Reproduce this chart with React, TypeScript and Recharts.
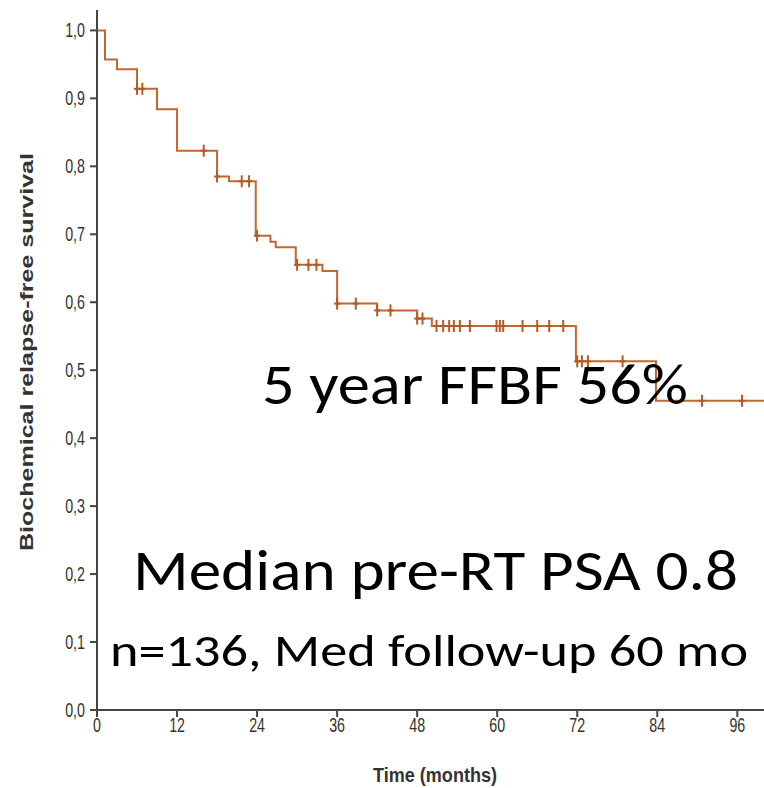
import React from 'react';
import { ComposedChart, Line, Scatter, XAxis, YAxis } from 'recharts';

// Kaplan-Meier steps (months, survival after the drop)
const eventMonths = [0, 1.2, 3, 6, 9, 12, 18, 19.8, 23.8, 26, 26.8, 29.8, 33.8, 36, 42, 48, 50.2, 71.8, 83.8, 100];
const survival = [1.0, 0.957, 0.943, 0.914, 0.884, 0.823, 0.785, 0.778, 0.698, 0.689, 0.681, 0.655, 0.646, 0.598, 0.588, 0.576, 0.565, 0.513, 0.455, 0.455];

// censored patients (months)
const censoredMonths = [
  6, 6.8, 16, 18, 21.7, 22.8, 24, 30, 31.7, 32.9, 36, 38.8, 42, 44, 48, 48.8,
  50.9, 51.9, 52.8, 53.5, 54.4, 55.9, 59.9, 60.4, 60.9, 63.8, 66, 67.8, 69.9,
  72, 72.7, 73.6, 78.8, 90.7, 96.7,
];

const xTicks = [0, 12, 24, 36, 48, 60, 72, 84, 96];
const yTicks = [0, 0.1, 0.2, 0.3, 0.4, 0.5, 0.6, 0.7, 0.8, 0.9, 1.0];

const kmData = eventMonths.map((t, i) => ({ t, s: survival[i] }));

const survivalAt = (t: number) => {
  let v = survival[0];
  eventMonths.forEach((e, i) => {
    if (e <= t) v = survival[i];
  });
  return v;
};

const censorData = censoredMonths.map(t => ({ t, s: survivalAt(t) }));

const CURVE = '#c2672f';
const AXIS = '#444';
const TICK_FONT = 'Liberation Sans, Arial, sans-serif';

const CensorMark = (props: any) => {
  const { cx, cy } = props;
  return (
    <g>
      <line x1={cx} y1={cy - 6} x2={cx} y2={cy + 6} stroke="#b35a26" strokeWidth={2} />
      <line x1={cx - 3} y1={cy} x2={cx + 3} y2={cy} stroke="#b35a26" strokeWidth={2} />
    </g>
  );
};

const fmt = (v: number) => v.toFixed(1).replace('.', ',');

// tick labels in the source look slightly stretched vertically
const XTick = (props: any) => {
  const { x, y, payload } = props;
  return (
    <text
      transform={`translate(${x},${y + 13}) scale(0.95,1.3)`}
      textAnchor="middle"
      fontFamily={TICK_FONT}
      fontSize={15}
      fill="#333"
    >
      {payload.value}
    </text>
  );
};

const YTick = (props: any) => {
  const { x, y, payload } = props;
  return (
    <text
      transform={`translate(${x},${y + 7}) scale(0.95,1.3)`}
      textAnchor="end"
      fontFamily={TICK_FONT}
      fontSize={15}
      fill="#333"
    >
      {fmt(payload.value)}
    </text>
  );
};

export default function App() {
  const bigFont = 'Carlito, Calibri, Lato, sans-serif';
  return (
    <div style={{ position: 'absolute', left: 0, top: 0, width: 764, height: 788, background: '#fff' }}>
      <ComposedChart width={764} height={788} margin={{ top: 10, right: 0, bottom: 0, left: 0 }}>
        <XAxis
          dataKey="t"
          type="number"
          domain={[0, 100]}
          ticks={xTicks}
          height={78}
          tickSize={7}
          tickMargin={2}
          axisLine={{ stroke: AXIS, strokeWidth: 2 }}
          tickLine={{ stroke: AXIS, strokeWidth: 2 }}
          tick={<XTick />}
        />
        <YAxis
          type="number"
          domain={[0, 1.03]}
          ticks={yTicks}
          width={97}
          tickSize={7}
          tickMargin={5}
          axisLine={{ stroke: AXIS, strokeWidth: 2 }}
          tickLine={{ stroke: AXIS, strokeWidth: 2 }}
          tick={<YTick />}
        />
        <Line
          data={kmData}
          dataKey="s"
          type="stepAfter"
          stroke={CURVE}
          strokeWidth={2}
          dot={false}
          activeDot={false}
          isAnimationActive={false}
        />
        <Scatter data={censorData} dataKey="s" shape={CensorMark} isAnimationActive={false} />
      </ComposedChart>
      <svg
        width={764}
        height={788}
        style={{ position: 'absolute', left: 0, top: 0, pointerEvents: 'none' }}
      >
        <text
          x={0}
          y={0}
          transform="translate(33,352) rotate(-90)"
          textAnchor="middle"
          fontFamily={TICK_FONT}
          fontWeight="bold"
          fontSize={18}
          fill="#333"
          textLength={398}
          lengthAdjust="spacingAndGlyphs"
        >
          Biochemical relapse-free survival
        </text>
        <text
          transform="translate(373,782) scale(1,1.2)"
          fontFamily={TICK_FONT}
          fontWeight="bold"
          fontSize={17}
          fill="#333"
          textLength={124}
          lengthAdjust="spacingAndGlyphs"
        >
          Time (months)
        </text>
        <text x={262} y={404} fontFamily={bigFont} fontSize={57} fill="#000" textLength={426} lengthAdjust="spacingAndGlyphs">
          5 year FFBF 56%
        </text>
        <text x={133} y={590} fontFamily={bigFont} fontSize={58} fill="#000" textLength={605} lengthAdjust="spacingAndGlyphs">
          Median pre-RT PSA 0.8
        </text>
        <text x={110} y={666} fontFamily={bigFont} fontSize={46} fill="#000" textLength={638} lengthAdjust="spacingAndGlyphs">
          n=136, Med follow-up 60 mo
        </text>
      </svg>
    </div>
  );
}
